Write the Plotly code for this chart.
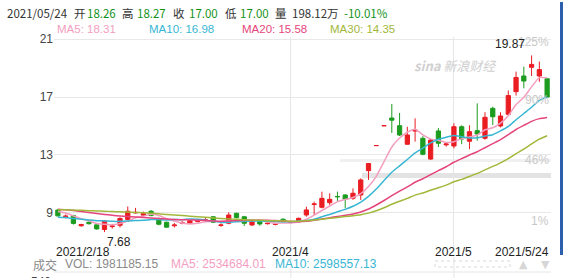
import plotly.graph_objects as go

# ---------------- data ----------------
dates = [
    "2021/2/18", "2021/2/19", "2021/2/22", "2021/2/23", "2021/2/24", "2021/2/25", "2021/2/26",
    "2021/3/1", "2021/3/2", "2021/3/3", "2021/3/4", "2021/3/5", "2021/3/8", "2021/3/9",
    "2021/3/10", "2021/3/11", "2021/3/12", "2021/3/15", "2021/3/16", "2021/3/17", "2021/3/18",
    "2021/3/19", "2021/3/22", "2021/3/23", "2021/3/24", "2021/3/25", "2021/3/26", "2021/3/29",
    "2021/3/30", "2021/3/31",
    "2021/4/1", "2021/4/2", "2021/4/6", "2021/4/7", "2021/4/8", "2021/4/9", "2021/4/12",
    "2021/4/13", "2021/4/14", "2021/4/15", "2021/4/16", "2021/4/19", "2021/4/20", "2021/4/21",
    "2021/4/22", "2021/4/23", "2021/4/26", "2021/4/27", "2021/4/28", "2021/4/29", "2021/4/30",
    "2021/5/6", "2021/5/7", "2021/5/10", "2021/5/11", "2021/5/12", "2021/5/13", "2021/5/14",
    "2021/5/17", "2021/5/18", "2021/5/19", "2021/5/20", "2021/5/21", "2021/5/24",
]
opens = [
    9.20, 8.75, 8.82, 8.12, 8.36, 8.18, 7.86, 8.06, 8.15, 8.55,
    9.00, 8.85, 9.12, 8.62, 8.36, 8.12, 8.30, 8.30, 8.42, 8.50,
    8.74, 8.14, 8.29, 8.98, 8.74, 8.17, 8.40, 8.26, 8.22, 8.57,
    8.35, 8.40, 8.86, 9.58, 9.39, 9.71, 10.14, 10.24, 10.01, 10.24,
    11.92, 13.65, 15.02, 15.55, 15.02, 13.74, 14.65, 14.15, 12.72, 14.66,
    13.70, 13.62, 14.95, 13.95, 14.68, 14.15, 16.22, 15.00, 15.81, 17.37,
    18.45, 19.05, 18.45, 18.26,
]
highs = [
    9.28, 8.90, 8.88, 8.25, 8.42, 8.22, 8.50, 8.25, 8.70, 9.45,
    9.35, 9.10, 9.20, 8.68, 8.40, 8.30, 8.45, 8.52, 8.58, 8.65,
    8.78, 8.28, 9.05, 9.02, 8.80, 8.45, 8.45, 8.35, 8.30, 8.62,
    8.48, 8.68, 9.43, 9.78, 10.47, 10.36, 10.47, 10.30, 10.70, 11.39,
    12.41, 13.65, 15.02, 16.52, 15.90, 14.95, 15.53, 14.30, 14.10, 14.86,
    13.85, 15.19, 15.05, 15.05, 16.56, 15.95, 16.33, 15.95, 17.45, 18.75,
    19.09, 19.87, 19.45, 18.27,
]
lows = [
    8.75, 8.62, 8.20, 8.05, 8.20, 7.85, 7.68, 7.92, 8.00, 8.50,
    8.95, 8.80, 8.78, 8.15, 7.98, 8.00, 8.22, 8.25, 8.35, 8.42,
    8.32, 8.05, 8.22, 8.62, 8.10, 8.12, 8.12, 8.20, 8.15, 8.35,
    8.28, 8.36, 8.74, 8.86, 9.32, 9.55, 9.78, 9.32, 9.90, 9.90,
    11.28, 13.65, 15.02, 14.52, 14.31, 13.70, 13.92, 12.98, 12.66, 13.55,
    13.58, 13.46, 13.75, 13.40, 13.99, 14.05, 15.07, 14.90, 15.75, 17.10,
    17.60, 18.45, 18.05, 17.00,
]
closes = [
    8.80, 8.78, 8.28, 8.20, 8.26, 7.90, 8.45, 8.10, 8.62, 9.12,
    9.04, 8.95, 8.82, 8.22, 8.02, 8.17, 8.33, 8.47, 8.45, 8.52,
    8.36, 8.17, 8.86, 8.68, 8.29, 8.40, 8.24, 8.29, 8.24, 8.40,
    8.38, 8.63, 9.21, 9.62, 10.01, 9.94, 10.12, 9.94, 10.36, 11.28,
    12.41, 13.65, 15.02, 15.40, 14.38, 14.38, 14.72, 13.05, 14.03, 13.81,
    13.76, 14.95, 14.10, 14.61, 14.45, 15.60, 15.64, 15.69, 17.10, 18.35,
    18.10, 19.25, 18.89, 17.00,
]
ma5 = [
    9.10, 9.00, 8.80, 8.60, 8.46, 8.28, 8.22, 8.18, 8.27, 8.44,
    8.67, 8.77, 8.91, 8.83, 8.61, 8.44, 8.31, 8.24, 8.29, 8.39,
    8.43, 8.39, 8.47, 8.52, 8.47, 8.48, 8.49, 8.38, 8.29, 8.31,
    8.31, 8.39, 8.57, 8.85, 9.17, 9.48, 9.78, 9.93, 10.07, 10.33,
    10.82, 11.53, 12.54, 13.55, 14.17, 14.57, 14.78, 14.39, 14.11, 14.00,
    13.87, 13.92, 14.13, 14.25, 14.37, 14.74, 14.88, 15.20, 15.70, 16.48,
    16.98, 17.70, 18.34, 18.32,
]
ma10 = [
    8.70, 8.68, 8.62, 8.57, 8.52, 8.47, 8.45, 8.42, 8.42, 8.45,
    8.48, 8.49, 8.55, 8.55, 8.52, 8.55, 8.54, 8.58, 8.56, 8.50,
    8.43, 8.35, 8.36, 8.40, 8.43, 8.45, 8.44, 8.43, 8.41, 8.39,
    8.40, 8.44, 8.48, 8.57, 8.74, 8.90, 9.08, 9.25, 9.46, 9.75,
    10.15, 10.65, 11.24, 11.81, 12.25, 12.69, 13.15, 13.47, 13.83, 14.09,
    14.22, 14.35, 14.26, 14.18, 14.19, 14.31, 14.40, 14.66, 14.97, 15.43,
    15.86, 16.29, 16.77, 17.01,
]
ma20 = [
    9.25, 9.22, 9.17, 9.10, 9.03, 8.96, 8.90, 8.84, 8.79, 8.75,
    8.72, 8.69, 8.66, 8.62, 8.58, 8.55, 8.53, 8.52, 8.50, 8.48,
    8.45, 8.42, 8.45, 8.48, 8.48, 8.50, 8.49, 8.50, 8.48, 8.45,
    8.41, 8.40, 8.42, 8.49, 8.59, 8.67, 8.76, 8.84, 8.93, 9.07,
    9.27, 9.55, 9.86, 10.19, 10.50, 10.80, 11.12, 11.36, 11.65, 11.92,
    12.19, 12.50, 12.75, 13.00, 13.22, 13.50, 13.78, 14.06, 14.40, 14.76,
    15.04, 15.32, 15.51, 15.59,
]
ma30 = [
    9.22, 9.22, 9.20, 9.18, 9.16, 9.14, 9.12, 9.10, 9.08, 9.06,
    9.04, 9.01, 8.98, 8.94, 8.90, 8.86, 8.82, 8.78, 8.74, 8.70,
    8.66, 8.62, 8.59, 8.56, 8.53, 8.51, 8.49, 8.47, 8.46, 8.45,
    8.43, 8.43, 8.46, 8.51, 8.57, 8.63, 8.69, 8.75, 8.81, 8.88,
    8.99, 9.15, 9.36, 9.60, 9.81, 10.01, 10.23, 10.38, 10.57, 10.74,
    10.92, 11.15, 11.32, 11.52, 11.73, 11.97, 12.21, 12.46, 12.75, 13.09,
    13.41, 13.76, 14.09, 14.33,
]
y_ticks = [9, 13, 17, 21]
pct_labels = ["125%", "90%", "46%", "1%"]
pct_levels = [20.79, 16.79, 12.66, 8.45]
x_label_texts = ["2021/2/18", "2021/4", "2021/5", "2021/5/24"]
x_label_dates = ["2021/2/18", "2021/4/1", "2021/5/6", "2021/5/24"]
grid_dates = ["2021/4/1", "2021/5/6"]

header_items = [
    ("2021/05/24", "#333333"), ("开", "#333333"), ("18.26", "#13921b"),
    ("高", "#333333"), ("18.27", "#13921b"), ("收", "#333333"), ("17.00", "#13921b"),
    ("低", "#333333"), ("17.00", "#13921b"), ("量", "#333333"), ("198.12万", "#333333"),
    ("-10.01%", "#13921b"),
]
header_x = [5, 72, 85, 120, 135, 171, 187, 223, 238, 273, 290, 342]

ma_names = ["MA5", "MA10", "MA20", "MA30"]
ma_last = ["18.31", "16.98", "15.58", "14.35"]
ma_colors = ["#f49ebf", "#38b6d4", "#e5457c", "#a2b83a"]
ma_text_x = [55, 147, 240, 328]

vol_label = "成交"
vol_text = "VOL: 1981185.15"
vol_ma5 = "MA5: 2534684.01"
vol_ma10 = "MA10: 2598557.13"
vol_axis_top = "540"

RED = "#ea1d23"
GREEN = "#1c9c1f"

# ---------------- geometry helpers (pixel -> paper) ----------------
FW, FH = 563, 278
ML, MR, MT, MB = 54, 12, 37, 33
PW, PH = FW - ML - MR, FH - MT - MB


def px(x):
    return (x - ML) / PW


def py(y):
    return (FH - MB - y) / PH


xs = list(range(len(dates)))

fig = go.Figure()
fig.add_trace(go.Candlestick(
    x=xs, open=opens, high=highs, low=lows, close=closes,
    increasing=dict(line=dict(color=RED, width=1), fillcolor=RED),
    decreasing=dict(line=dict(color=GREEN, width=1), fillcolor=GREEN),
    whiskerwidth=0, hoverinfo="skip", showlegend=False,
))
for name, vals, col in zip(ma_names, [ma5, ma10, ma20, ma30], ma_colors):
    fig.add_trace(go.Scatter(
        x=xs, y=vals, mode="lines", name=name,
        line=dict(color=col, width=1.5, shape="spline", smoothing=0.5),
        hoverinfo="skip", showlegend=False,
    ))

ann = []
CJK = "Noto Sans CJK SC"
SANS = "Liberation Sans"

# header line
for (txt, col), x in zip(header_items, header_x):
    ann.append(dict(text=txt, xref="paper", yref="paper", x=px(x), y=py(13),
                    xanchor="left", yanchor="middle", showarrow=False,
                    font=dict(family=CJK, size=11.5, color=col)))
# MA legend row
for nm, v, col, x in zip(ma_names, ma_last, ma_colors, ma_text_x):
    ann.append(dict(text=f"{nm}: {v}", xref="paper", yref="paper", x=px(x), y=py(29),
                    xanchor="left", yanchor="middle", showarrow=False,
                    font=dict(family=SANS, size=11.5, color=col)))
# x date labels
for txt, d in zip(x_label_texts, x_label_dates):
    i = dates.index(d)
    anchor = "center"
    if i == 0:
        anchor = "left"
    elif i == len(dates) - 1:
        anchor = "right"
    ann.append(dict(text=txt, xref="x", yref="paper",
                    x=(i - 0.5) if anchor == "left" else ((i + 0.5) if anchor == "right" else i),
                    y=py(252), xanchor=anchor, yanchor="middle", showarrow=False,
                    font=dict(family=SANS, size=12, color="#222222")))
# percentage labels on right
for txt, lv in zip(pct_labels, pct_levels):
    ann.append(dict(text=txt, xref="paper", yref="y", x=px(551), y=lv,
                    xanchor="right", yanchor="middle", showarrow=False,
                    font=dict(family=SANS, size=12, color="#c9c9c9")))
# high / low markers
imax = highs.index(max(highs))
imin = lows.index(min(lows))
ann.append(dict(text=f"{max(highs):.2f}", xref="x", yref="y", x=imax, y=max(highs),
                xanchor="right", yanchor="bottom", xshift=-5, yshift=2, showarrow=False,
                font=dict(family=SANS, size=12, color="#222222")))
ann.append(dict(text=f"{min(lows):.2f}", xref="x", yref="y", x=imin, y=min(lows),
                xanchor="left", yanchor="top", xshift=1, yshift=-1, showarrow=False,
                font=dict(family=SANS, size=12, color="#222222")))
# watermark
ann.append(dict(text="<b><i>sina</i></b> <i>新浪财经</i>", xref="paper", yref="paper",
                x=px(455), y=py(66), xanchor="center", yanchor="middle", showarrow=False,
                font=dict(family=CJK, size=13, color="#d0d0d0")))
# volume row
ann.append(dict(text=vol_label, xref="paper", yref="paper", x=px(31), y=py(264),
                xanchor="left", yanchor="middle", showarrow=False,
                font=dict(family=CJK, size=12, color="#8a8a8a")))
for txt, x, col in [(vol_text, 63, "#8a8a8a"), (vol_ma5, 169, ma_colors[0]), (vol_ma10, 273, ma_colors[1])]:
    ann.append(dict(text=txt, xref="paper", yref="paper", x=px(x), y=py(264),
                    xanchor="left", yanchor="middle", showarrow=False,
                    font=dict(family=SANS, size=12, color=col)))
ann.append(dict(text=vol_axis_top, xref="paper", yref="paper", x=px(53), y=py(282),
                xanchor="right", yanchor="middle", showarrow=False,
                font=dict(family=SANS, size=12, color="#444444")))
for sym, x in [("▲", 523), ("▼", 545)]:
    ann.append(dict(text=sym, xref="paper", yref="paper", x=px(x), y=py(264),
                    xanchor="center", yanchor="middle", showarrow=False,
                    font=dict(family="DejaVu Sans", size=11, color="#d6d6d6")))

shapes = []
# grey bands
shapes.append(dict(type="rect", xref="paper", yref="paper", x0=px(340), x1=px(551),
                   y0=py(159), y1=py(162), fillcolor="#f0f0f0", line=dict(width=0), layer="below"))
shapes.append(dict(type="rect", xref="paper", yref="paper", x0=px(362), x1=px(551),
                   y0=py(173), y1=py(178), fillcolor="#e3e3e3", line=dict(width=0), layer="below"))
# vertical grid extensions into the lower panel
for d in grid_dates:
    i = dates.index(d)
    for y0, y1 in [(245, 248), (257, 278)]:
        shapes.append(dict(type="line", xref="x", yref="paper", x0=i, x1=i,
                           y0=py(y0), y1=py(y1), line=dict(color="#e6e6e6", width=1), layer="below"))
# lower panel top line
shapes.append(dict(type="line", xref="paper", yref="paper", x0=0, x1=1, y0=py(272), y1=py(272),
                   line=dict(color="#e6e6e6", width=1), layer="below"))
# scroll bar (dotted)
shapes.append(dict(type="rect", xref="paper", yref="paper", x0=px(435), x1=px(510),
                   y0=py(261), y1=py(267), line=dict(color="#dadada", width=1, dash="dot"),
                   fillcolor="rgba(0,0,0,0)"))
# blue side bar
shapes.append(dict(type="rect", xref="paper", yref="paper", x0=px(560), x1=px(563),
                   y0=py(255), y1=py(2), fillcolor="#2c5fae", line=dict(width=0)))

fig.update_layout(
    width=FW, height=FH,
    margin=dict(l=ML, r=MR, t=MT, b=MB, pad=0),
    paper_bgcolor="white", plot_bgcolor="white",
    showlegend=False, boxgap=0.22,
    annotations=ann, shapes=shapes,
    xaxis=dict(range=[-0.5, len(dates) - 0.5], rangeslider=dict(visible=False),
               tickmode="array", tickvals=[dates.index(d) for d in grid_dates],
               showticklabels=False, showgrid=True, gridcolor="#e6e6e6", gridwidth=1,
               zeroline=False, showline=False, ticks=""),
    yaxis=dict(range=[6.79, 21.14], tickmode="array", tickvals=y_ticks,
               ticktext=[str(t) for t in y_ticks], showgrid=True, gridcolor="#e8e8e8",
               zeroline=False, showline=False, ticks="",
               tickfont=dict(family=SANS, size=12, color="#444444")),
)

fig.write_html("out.html", config={"displayModeBar": False})
